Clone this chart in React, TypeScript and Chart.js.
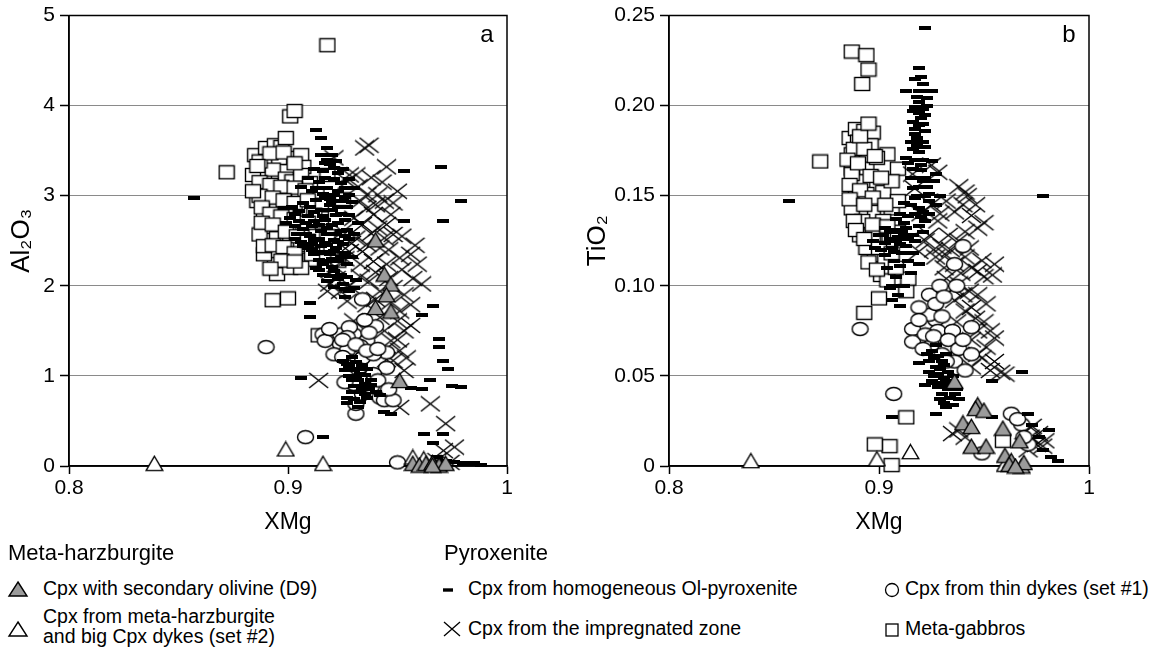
import React, { useEffect, useRef } from "react";
import { Chart, registerables } from "chart.js";

Chart.register(...registerables);

type Pt = [number, number];

// ---- Panel a: XMg vs Al2O3 ----
const olivineA: Pt[] = [
  [0.940, 2.51], [0.944, 2.13], [0.947, 2.02], [0.945, 1.90], [0.940, 1.76], [0.947, 1.72],
  [0.951, 0.95], [0.957, 0.03], [0.960, 0.01], [0.963, 0.03], [0.966, 0.04], [0.969, 0.01],
  [0.972, 0.03], [0.966, 0.01],
];
const harzA: Pt[] = [[0.839, 0.03], [0.899, 0.19], [0.916, 0.03], [0.957, 0.10], [0.962, 0.08]];
const homogA: Pt[] = [
  [0.915, 3.45], [0.918, 3.40], [0.921, 3.31], [0.916, 3.27], [0.921, 3.19], [0.924, 3.14],
  [0.918, 3.08], [0.921, 3.01], [0.925, 2.94], [0.919, 2.90], [0.915, 2.84], [0.922, 2.79],
  [0.926, 2.73], [0.920, 2.68], [0.924, 2.61], [0.918, 2.57], [0.921, 2.51], [0.925, 2.46],
  [0.915, 2.44], [0.919, 2.35], [0.923, 2.27], [0.916, 2.24], [0.913, 2.20], [0.927, 2.24],
  [0.921, 2.16], [0.918, 2.05], [0.925, 2.02], [0.928, 1.94], [0.902, 2.88], [0.905, 2.83],
  [0.909, 2.77], [0.901, 2.75], [0.905, 2.72], [0.911, 2.66], [0.908, 2.57], [0.912, 2.51],
  [0.915, 2.61], [0.906, 2.49], [0.909, 2.42], [0.912, 2.35], [0.930, 2.57], [0.928, 2.79],
  [0.928, 3.01], [0.930, 3.08], [0.917, 3.20], [0.923, 2.87], [0.917, 2.73], [0.922, 2.42],
  [0.913, 2.95], [0.926, 2.36], [0.910, 2.88], [0.920, 2.30],
  [0.911, 3.05], [0.914, 3.15], [0.919, 3.35], [0.923, 3.25], [0.926, 3.08], [0.927, 2.88],
  [0.923, 2.70], [0.927, 2.62], [0.917, 2.48], [0.914, 2.29], [0.920, 2.21], [0.924, 2.12],
  [0.916, 2.12], [0.907, 2.63], [0.904, 2.58], [0.911, 2.46], [0.928, 2.52], [0.932, 2.70],
  [0.929, 2.32], [0.926, 1.88], [0.931, 2.06], [0.920, 2.94], [0.917, 2.98], [0.912, 2.72],
  [0.903, 2.66],
  [0.906, 3.10], [0.909, 3.20], [0.912, 3.30], [0.917, 3.36], [0.920, 3.45], [0.922, 3.38],
  [0.925, 3.30], [0.928, 3.18], [0.913, 3.08], [0.916, 3.02], [0.919, 2.96], [0.923, 3.05],
  [0.926, 2.99], [0.929, 2.93], [0.912, 2.82], [0.916, 2.78], [0.920, 2.84], [0.924, 2.80],
  [0.908, 2.70], [0.914, 2.68], [0.918, 2.64], [0.922, 2.58], [0.926, 2.55], [0.910, 2.55],
  [0.914, 2.52], [0.918, 2.45], [0.923, 2.49], [0.911, 2.40], [0.916, 2.37], [0.921, 2.39],
  [0.924, 2.32], [0.918, 2.27], [0.914, 2.17], [0.919, 2.11], [0.923, 2.07], [0.927, 2.10],
  [0.921, 1.99], [0.926, 1.96], [0.930, 1.98], [0.907, 2.92], [0.903, 2.80], [0.898, 2.86],
  [0.899, 2.70], [0.903, 2.52], [0.907, 2.44],
  [0.925, 1.17], [0.928, 1.11], [0.931, 1.15], [0.930, 1.06], [0.933, 1.02], [0.936, 1.08],
  [0.928, 1.00], [0.932, 0.95], [0.935, 0.91], [0.937, 0.85], [0.930, 0.89], [0.940, 0.82],
  [0.927, 0.76], [0.933, 0.82], [0.929, 1.21], [0.934, 1.12], [0.926, 1.07], [0.931, 0.98],
  [0.938, 0.96], [0.935, 0.80], [0.929, 0.82], [0.927, 1.13], [0.932, 1.08], [0.935, 1.01],
  [0.929, 0.96], [0.934, 0.87], [0.938, 0.90], [0.942, 0.79], [0.933, 0.71], [0.927, 0.70],
  [0.857, 2.98], [0.913, 3.73], [0.915, 3.64], [0.918, 3.53], [0.953, 3.27], [0.970, 3.32],
  [0.979, 2.94], [0.953, 2.72], [0.971, 2.72], [0.966, 1.78], [0.961, 1.68], [0.910, 1.81],
  [0.910, 1.65], [0.906, 0.98], [0.916, 0.32], [0.969, 1.41], [0.969, 1.32], [0.971, 1.17],
  [0.973, 1.08], [0.975, 0.89], [0.979, 0.88], [0.965, 0.95], [0.961, 0.85], [0.956, 0.87],
  [0.962, 0.36], [0.971, 0.36], [0.947, 0.58], [0.944, 0.60], [0.966, 0.25], [0.968, 0.10],
  [0.972, 0.06], [0.980, 0.03], [0.985, 0.03], [0.988, 0.015], [0.976, 0.04], [0.930, 0.74],
  [0.936, 0.76], [0.932, 0.65], [0.923, 2.28],
];
const impregA: Pt[] = [
  [0.935, 3.53], [0.937, 3.56], [0.945, 3.32], [0.928, 3.23], [0.927, 3.16], [0.931, 3.23],
  [0.936, 3.01], [0.941, 3.01], [0.944, 2.94], [0.933, 2.94], [0.939, 2.79], [0.947, 2.79],
  [0.930, 2.75], [0.934, 2.68], [0.941, 2.64], [0.948, 2.57], [0.925, 2.60], [0.931, 2.53],
  [0.936, 2.46], [0.942, 2.42], [0.928, 2.38], [0.951, 2.31], [0.956, 2.35], [0.959, 2.24],
  [0.939, 2.27], [0.945, 2.24], [0.933, 2.24], [0.922, 2.20], [0.919, 2.02], [0.918, 1.94],
  [0.924, 1.94], [0.928, 2.00], [0.937, 2.05], [0.942, 1.94], [0.948, 1.98], [0.953, 1.90],
  [0.961, 2.02], [0.956, 1.79], [0.936, 1.79], [0.942, 1.65], [0.950, 1.61], [0.953, 1.50],
  [0.947, 1.39], [0.951, 1.28], [0.948, 1.17], [0.953, 1.06], [0.951, 0.65], [0.914, 0.95],
  [0.965, 0.69], [0.972, 0.47], [0.976, 0.21], [0.971, 0.17], [0.968, 0.06], [0.974, 0.04],
  [0.930, 1.61], [0.927, 1.83], [0.921, 3.42],
  [0.932, 3.10], [0.938, 3.20], [0.940, 2.90], [0.936, 2.86], [0.945, 2.68], [0.938, 2.58],
  [0.944, 2.53], [0.934, 2.38], [0.946, 2.40], [0.926, 2.30], [0.940, 2.15], [0.933, 2.10],
  [0.946, 2.08], [0.922, 2.08], [0.952, 2.18], [0.957, 2.08], [0.940, 1.85], [0.947, 1.82],
  [0.951, 1.72], [0.944, 1.50], [0.956, 1.56], [0.950, 1.40], [0.945, 1.18], [0.954, 1.20],
  [0.958, 2.45], [0.952, 2.55], [0.948, 2.92], [0.950, 3.05], [0.943, 3.15], [0.929, 2.47],
];
const thinDykesA: Pt[] = [
  [0.890, 1.32], [0.908, 0.32], [0.950, 0.04], [0.931, 0.58], [0.931, 0.69], [0.934, 1.85],
  [0.940, 1.55], [0.916, 1.46], [0.921, 1.46], [0.917, 1.39], [0.924, 1.35], [0.927, 1.28],
  [0.921, 1.24], [0.928, 1.17], [0.934, 1.20], [0.945, 1.26], [0.945, 1.09], [0.924, 1.46],
  [0.930, 1.46], [0.936, 1.39], [0.939, 1.24], [0.942, 0.76], [0.944, 0.73], [0.948, 0.73],
  [0.934, 0.80], [0.930, 0.91], [0.928, 1.54], [0.933, 1.33], [0.939, 1.02], [0.927, 1.43],
  [0.919, 1.52], [0.925, 1.40], [0.931, 1.35], [0.936, 1.28], [0.941, 1.30], [0.925, 1.21],
  [0.932, 1.08], [0.938, 0.88], [0.941, 0.95], [0.946, 0.85], [0.926, 0.93], [0.937, 1.48],
  [0.935, 1.62],
];
const gabbroA: Pt[] = [
  [0.918, 4.67], [0.901, 3.88], [0.903, 3.94], [0.872, 3.26], [0.893, 1.84], [0.900, 1.86],
  [0.914, 1.45], [0.923, 2.28], [0.925, 2.96],
  [0.885, 3.45], [0.890, 3.53], [0.894, 3.56], [0.897, 3.54], [0.899, 3.64], [0.901, 3.42],
  [0.906, 3.45], [0.907, 3.32], [0.896, 3.42], [0.889, 3.23], [0.893, 3.29], [0.899, 3.19],
  [0.902, 3.16], [0.906, 3.23], [0.910, 3.14], [0.889, 3.08], [0.895, 3.07], [0.901, 3.01],
  [0.905, 3.03], [0.913, 3.01], [0.890, 2.94], [0.889, 2.79], [0.895, 2.84], [0.899, 2.79],
  [0.906, 2.83], [0.915, 2.75], [0.892, 2.64], [0.896, 2.72], [0.902, 2.64], [0.907, 2.60],
  [0.913, 2.57], [0.890, 2.51], [0.895, 2.53], [0.901, 2.49], [0.906, 2.42], [0.894, 2.37],
  [0.899, 2.35], [0.906, 2.31], [0.910, 2.29], [0.894, 2.24], [0.895, 2.13], [0.901, 2.20],
  [0.906, 2.20], [0.889, 2.35], [0.887, 2.57], [0.886, 2.94], [0.884, 3.23], [0.918, 3.23],
  [0.915, 2.90], [0.912, 2.79], [0.918, 2.55], [0.913, 2.42],
  [0.887, 3.38], [0.892, 3.47], [0.898, 3.48], [0.903, 3.36], [0.887, 3.15], [0.892, 3.12],
  [0.897, 3.10], [0.903, 3.09], [0.908, 3.06], [0.887, 3.00], [0.893, 2.98], [0.898, 2.95],
  [0.903, 2.92], [0.909, 2.95], [0.888, 2.87], [0.892, 2.80], [0.897, 2.77], [0.903, 2.74],
  [0.909, 2.70], [0.888, 2.70], [0.893, 2.68], [0.899, 2.60], [0.904, 2.55], [0.889, 2.44],
  [0.893, 2.45], [0.898, 2.43], [0.903, 2.36], [0.897, 2.28], [0.892, 2.19], [0.903, 2.27],
  [0.911, 2.35], [0.909, 2.50], [0.886, 3.33], [0.884, 3.05],
];

// ---- Panel b: XMg vs TiO2 ----
const olivineB: Pt[] = [
  [0.936, 0.047], [0.947, 0.034], [0.946, 0.032], [0.950, 0.031], [0.940, 0.024], [0.944, 0.022],
  [0.944, 0.011], [0.951, 0.011], [0.959, 0.021], [0.967, 0.014], [0.960, 0.006], [0.963, 0.003],
  [0.968, 0.000], [0.962, 0.001], [0.969, 0.002], [0.965, 0.000],
];
const harzB: Pt[] = [[0.839, 0.003], [0.899, 0.004], [0.915, 0.008], [0.960, 0.001]];
const homogB: Pt[] = [
  [0.857, 0.147], [0.978, 0.150], [0.922, 0.243], [0.919, 0.221], [0.913, 0.208], [0.921, 0.208],
  [0.925, 0.208], [0.919, 0.202], [0.921, 0.198], [0.922, 0.195], [0.916, 0.191], [0.919, 0.189],
  [0.917, 0.184], [0.921, 0.180], [0.916, 0.176], [0.919, 0.174], [0.913, 0.171], [0.925, 0.169],
  [0.916, 0.165], [0.927, 0.162], [0.921, 0.158], [0.916, 0.154], [0.924, 0.151], [0.919, 0.143],
  [0.914, 0.139], [0.922, 0.136], [0.913, 0.132], [0.916, 0.128], [0.924, 0.147], [0.917, 0.149],
  [0.920, 0.138], [0.903, 0.132], [0.900, 0.128], [0.897, 0.125], [0.906, 0.121], [0.903, 0.117],
  [0.908, 0.125], [0.906, 0.092], [0.909, 0.095], [0.905, 0.099], [0.922, 0.160],
  [0.918, 0.205], [0.920, 0.193], [0.917, 0.187], [0.921, 0.170], [0.918, 0.160], [0.923, 0.155],
  [0.915, 0.145], [0.921, 0.141], [0.912, 0.135], [0.919, 0.133], [0.909, 0.127], [0.913, 0.122],
  [0.903, 0.124], [0.907, 0.119], [0.911, 0.130], [0.917, 0.125], [0.898, 0.121], [0.904, 0.110],
  [0.908, 0.105], [0.906, 0.100],
  [0.910, 0.140], [0.912, 0.146], [0.908, 0.137], [0.905, 0.130], [0.902, 0.128], [0.911, 0.118],
  [0.914, 0.114], [0.916, 0.118], [0.919, 0.112], [0.915, 0.107], [0.912, 0.100], [0.910, 0.089],
  [0.918, 0.150], [0.920, 0.164], [0.914, 0.168], [0.918, 0.178], [0.922, 0.186], [0.919, 0.196],
  [0.923, 0.200], [0.916, 0.197], [0.920, 0.216], [0.915, 0.180], [0.926, 0.158], [0.924, 0.140],
  [0.927, 0.145], [0.929, 0.150], [0.921, 0.130],
  [0.917, 0.215], [0.921, 0.212], [0.919, 0.208], [0.923, 0.204], [0.917, 0.199], [0.921, 0.190],
  [0.918, 0.182], [0.922, 0.177], [0.917, 0.170], [0.920, 0.167], [0.915, 0.160], [0.919, 0.155],
  [0.922, 0.150], [0.917, 0.140], [0.912, 0.128], [0.910, 0.123], [0.905, 0.126], [0.908, 0.131],
  [0.914, 0.126], [0.901, 0.120], [0.907, 0.114], [0.910, 0.111],
  [0.919, 0.057], [0.925, 0.064], [0.927, 0.055], [0.928, 0.051], [0.928, 0.044], [0.932, 0.047],
  [0.935, 0.050], [0.938, 0.037], [0.935, 0.034], [0.927, 0.029], [0.906, 0.027], [0.968, 0.052],
  [0.954, 0.047], [0.954, 0.027], [0.971, 0.029], [0.981, 0.020], [0.985, 0.003], [0.982, 0.005],
  [0.976, 0.016], [0.973, 0.023], [0.925, 0.047], [0.930, 0.058], [0.978, 0.009],
  [0.926, 0.060], [0.929, 0.054], [0.931, 0.049], [0.927, 0.046], [0.933, 0.043], [0.930, 0.040],
  [0.936, 0.040], [0.924, 0.052], [0.923, 0.062], [0.927, 0.067], [0.931, 0.056], [0.933, 0.052],
  [0.929, 0.037], [0.932, 0.033], [0.922, 0.045], [0.924, 0.058], [0.928, 0.061], [0.932, 0.062],
  [0.926, 0.050], [0.930, 0.045], [0.934, 0.046], [0.931, 0.035], [0.934, 0.038], [0.937, 0.043],
];
const impregB: Pt[] = [
  [0.916, 0.162], [0.928, 0.163], [0.925, 0.167], [0.941, 0.152], [0.940, 0.145], [0.944, 0.139],
  [0.936, 0.141], [0.947, 0.132], [0.941, 0.130], [0.922, 0.125], [0.919, 0.119], [0.927, 0.116],
  [0.932, 0.117], [0.936, 0.112], [0.941, 0.116], [0.949, 0.114], [0.955, 0.112], [0.954, 0.106],
  [0.947, 0.108], [0.932, 0.104], [0.938, 0.101], [0.943, 0.097], [0.947, 0.095], [0.936, 0.092],
  [0.941, 0.086], [0.946, 0.082], [0.947, 0.075], [0.955, 0.071], [0.951, 0.066], [0.947, 0.062],
  [0.955, 0.058], [0.960, 0.051], [0.944, 0.055], [0.935, 0.018], [0.976, 0.018], [0.973, 0.022],
  [0.979, 0.014], [0.978, 0.011], [0.971, 0.009], [0.924, 0.128], [0.928, 0.136], [0.933, 0.128],
  [0.932, 0.147], [0.917, 0.154],
  [0.920, 0.140], [0.925, 0.145], [0.929, 0.140], [0.926, 0.120], [0.930, 0.122], [0.934, 0.120],
  [0.938, 0.125], [0.943, 0.121], [0.939, 0.107], [0.944, 0.110], [0.950, 0.105], [0.935, 0.098],
  [0.940, 0.095], [0.951, 0.090], [0.944, 0.088], [0.950, 0.080], [0.953, 0.075], [0.944, 0.070],
  [0.949, 0.060], [0.958, 0.052], [0.953, 0.053], [0.942, 0.150], [0.938, 0.155], [0.946, 0.145],
  [0.950, 0.135], [0.931, 0.110], [0.937, 0.080], [0.972, 0.016], [0.975, 0.012], [0.969, 0.019],
  [0.938, 0.020], [0.941, 0.016],
];
const thinDykesB: Pt[] = [
  [0.891, 0.076], [0.907, 0.040], [0.940, 0.122], [0.936, 0.112], [0.924, 0.095], [0.927, 0.081],
  [0.916, 0.076], [0.916, 0.069], [0.924, 0.084], [0.928, 0.075], [0.925, 0.067], [0.935, 0.075],
  [0.944, 0.077], [0.932, 0.066], [0.936, 0.058], [0.941, 0.053], [0.919, 0.088], [0.963, 0.029],
  [0.968, 0.023], [0.949, 0.007], [0.971, 0.012], [0.927, 0.090], [0.922, 0.073], [0.930, 0.062],
  [0.919, 0.081], [0.921, 0.065], [0.926, 0.072], [0.930, 0.083], [0.933, 0.070], [0.938, 0.065],
  [0.932, 0.058], [0.940, 0.070], [0.929, 0.100], [0.931, 0.094], [0.937, 0.100], [0.944, 0.062],
  [0.966, 0.026], [0.969, 0.016],
];
const gabbroB: Pt[] = [
  [0.887, 0.230], [0.894, 0.228], [0.895, 0.220], [0.892, 0.212], [0.872, 0.169],
  [0.886, 0.182], [0.889, 0.187], [0.893, 0.186], [0.897, 0.185], [0.890, 0.180], [0.896, 0.178],
  [0.887, 0.173], [0.904, 0.173], [0.909, 0.165], [0.894, 0.165], [0.887, 0.165], [0.892, 0.158],
  [0.889, 0.151], [0.894, 0.151], [0.902, 0.152], [0.906, 0.143], [0.897, 0.141], [0.891, 0.141],
  [0.891, 0.128], [0.897, 0.128], [0.905, 0.128], [0.909, 0.130], [0.898, 0.117], [0.903, 0.114],
  [0.901, 0.106], [0.904, 0.103], [0.913, 0.097], [0.914, 0.104], [0.900, 0.093], [0.893, 0.085],
  [0.905, 0.011], [0.898, 0.012], [0.906, 0.0005], [0.913, 0.027], [0.887, 0.162], [0.887, 0.143],
  [0.892, 0.136], [0.894, 0.121], [0.902, 0.136], [0.906, 0.158], [0.909, 0.147], [0.959, 0.014],
  [0.888, 0.176], [0.893, 0.176], [0.899, 0.171], [0.885, 0.170], [0.890, 0.168], [0.896, 0.161],
  [0.901, 0.160], [0.886, 0.156], [0.891, 0.153], [0.897, 0.149], [0.903, 0.145], [0.886, 0.148],
  [0.893, 0.145], [0.888, 0.136], [0.897, 0.134], [0.904, 0.133], [0.889, 0.131], [0.893, 0.126],
  [0.900, 0.121], [0.906, 0.118], [0.895, 0.113], [0.899, 0.109], [0.908, 0.110], [0.891, 0.183],
  [0.895, 0.190], [0.898, 0.172],
];

// ---- Axes ----
const xTicks = [0.8, 0.9, 1];
const xTickLabels = ["0.8", "0.9", "1"];
const al2o3Ticks = [0, 1, 2, 3, 4, 5];
const al2o3TickLabels = ["0", "1", "2", "3", "4", "5"];
const tio2Ticks = [0, 0.05, 0.1, 0.15, 0.2, 0.25];
const tio2TickLabels = ["0", "0.05", "0.10", "0.15", "0.20", "0.25"];

const AXIS_FONT = "'Liberation Sans', Arial, sans-serif";
const TEXT_FONT = "'Liberation Sans', Arial, sans-serif";

type MarkerKind = "triFill" | "tri" | "dash" | "cross" | "circle" | "square";

function makeMarker(kind: MarkerKind): HTMLCanvasElement {
  const c = document.createElement("canvas");
  const size = (w: number, h: number) => {
    c.width = w;
    c.height = h;
  };
  if (kind === "square") size(18, 16);
  else if (kind === "circle") size(19, 16);
  else if (kind === "tri" || kind === "triFill") size(19, 17);
  else if (kind === "cross") size(21, 17);
  else size(12, 4);
  const ctx = c.getContext("2d")!;
  ctx.strokeStyle = "#000";
  ctx.lineWidth = 1.4;
  ctx.lineJoin = "miter";
  if (kind === "square") {
    ctx.fillStyle = "#fff";
    ctx.fillRect(1.5, 1.5, 15, 13);
    ctx.strokeRect(1.5, 1.5, 15, 13);
  } else if (kind === "circle") {
    ctx.beginPath();
    ctx.ellipse(9.5, 8, 8, 6.5, 0, 0, Math.PI * 2);
    ctx.fillStyle = "#fff";
    ctx.fill();
    ctx.stroke();
  } else if (kind === "tri" || kind === "triFill") {
    ctx.beginPath();
    ctx.moveTo(9.5, 1.5);
    ctx.lineTo(17.8, 15.6);
    ctx.lineTo(1.2, 15.6);
    ctx.closePath();
    ctx.fillStyle = kind === "triFill" ? "#9b9b9b" : "#fff";
    ctx.fill();
    ctx.stroke();
  } else if (kind === "cross") {
    ctx.lineWidth = 1.5;
    ctx.beginPath();
    ctx.moveTo(1, 1);
    ctx.lineTo(20, 16);
    ctx.moveTo(20, 1);
    ctx.lineTo(1, 16);
    ctx.stroke();
  } else {
    ctx.fillStyle = "#000";
    ctx.fillRect(0, 0, 12, 4);
  }
  return c;
}

type Series = { kind: MarkerKind; label: string; a: Pt[]; b: Pt[] };

// listed top-most first: dataset 0 is drawn last
const series: Series[] = [
  { kind: "triFill", label: "Cpx with secondary olivine (D9)", a: olivineA, b: olivineB },
  { kind: "tri", label: "Cpx from meta-harzburgite and big Cpx dykes (set #2)", a: harzA, b: harzB },
  { kind: "dash", label: "Cpx from homogeneous Ol-pyroxenite", a: homogA, b: homogB },
  { kind: "circle", label: "Cpx from thin dykes (set #1)", a: thinDykesA, b: thinDykesB },
  { kind: "cross", label: "Cpx from the impregnated zone", a: impregA, b: impregB },
  { kind: "square", label: "Meta-gabbros", a: gabbroA, b: gabbroB },
];

const framePlugin = {
  id: "frame",
  beforeDatasetsDraw(chart: any) {
    const { ctx, chartArea: a } = chart;
    ctx.save();
    ctx.strokeStyle = "#000";
    ctx.lineWidth = 1.5;
    ctx.strokeRect(a.left, a.top, a.right - a.left, a.bottom - a.top);
    ctx.restore();
  },
  afterDraw(chart: any, _args: any, opts: any) {
    const { ctx, chartArea: a } = chart;
    ctx.save();
    ctx.fillStyle = "#000";
    ctx.font = `24px ${AXIS_FONT}`;
    ctx.textAlign = "center";
    ctx.textBaseline = "middle";
    ctx.fillText(opts.letter, a.right - 20, a.top + 20);
    ctx.restore();
  },
};

type PanelSpec = {
  which: "a" | "b";
  left: number;
  width: number;
  height: number;
  yAxisWidth: number;
  padRight: number;
  yMax: number;
  yTicks: number[];
  yLabels: string[];
  yTitle: string;
  yTitlePad: number;
};

const panels: PanelSpec[] = [
  {
    which: "a", left: 0, width: 560, height: 545, yAxisWidth: 69, padRight: 53, yMax: 5,
    yTicks: al2o3Ticks, yLabels: al2o3TickLabels, yTitle: "Al\u2082O\u2083", yTitlePad: 6,
  },
  {
    which: "b", left: 580, width: 585, height: 545, yAxisWidth: 89, padRight: 76, yMax: 0.25,
    yTicks: tio2Ticks, yLabels: tio2TickLabels, yTitle: "TiO\u2082", yTitlePad: 2,
  },
];

function buildConfig(p: PanelSpec): any {
  const datasets = series.map((s) => {
    const img = makeMarker(s.kind);
    const pts = p.which === "a" ? s.a : s.b;
    return {
      label: s.label,
      data: pts.map(([x, y]) => ({ x, y })),
      pointStyle: img,
      pointRadius: 8,
      showLine: false,
      clip: false,
    };
  });
  return {
    type: "scatter",
    data: { datasets },
    plugins: [framePlugin],
    options: {
      responsive: false,
      animation: false,
      events: [],
      layout: { padding: { top: 13, right: p.padRight, left: 0, bottom: 0 } },
      plugins: {
        legend: { display: false },
        tooltip: { enabled: false },
        frame: { letter: p.which },
      },
      scales: {
        x: {
          type: "linear",
          min: 0.8,
          max: 1,
          afterBuildTicks: (s: any) => {
            s.ticks = xTicks.map((value) => ({ value }));
          },
          afterFit: (s: any) => {
            s.height = p.height - 466;
          },
          grid: { drawOnChartArea: false, drawTicks: true, tickLength: 8, tickColor: "#000", tickWidth: 1.5 },
          border: { display: true, color: "#000", width: 1.5 },
          ticks: {
            autoSkip: false,
            maxRotation: 0,
            color: "#000",
            padding: 4,
            font: { family: AXIS_FONT, size: 21, lineHeight: 1 },
            callback: (_v: any, i: number) => xTickLabels[i],
          },
          title: {
            display: true,
            text: "XMg",
            color: "#000",
            font: { family: AXIS_FONT, size: 23, lineHeight: 1.2 },
            padding: { top: 0, bottom: 9 },
          },
        },
        y: {
          type: "linear",
          min: 0,
          max: p.yMax,
          afterBuildTicks: (s: any) => {
            s.ticks = p.yTicks.map((value) => ({ value }));
          },
          afterFit: (s: any) => {
            s.width = p.yAxisWidth;
          },
          grid: { color: "#8a8a8a", lineWidth: 1, tickColor: "#000", tickLength: 9, tickWidth: 1.5 },
          border: { display: true, color: "#000", width: 1.5 },
          ticks: {
            color: "#000",
            padding: 5,
            font: { family: AXIS_FONT, size: 21, lineHeight: 1 },
            callback: (_v: any, i: number) => p.yLabels[i],
          },
          title: {
            display: true,
            text: p.yTitle,
            color: "#000",
            font: { family: TEXT_FONT, size: 26, lineHeight: 1.2 },
            padding: { top: p.yTitlePad, bottom: 0 },
          },
        },
      },
    },
  };
}

function Panel({ spec }: { spec: PanelSpec }) {
  const ref = useRef<HTMLCanvasElement>(null);
  useEffect(() => {
    const chart = new Chart(ref.current as HTMLCanvasElement, buildConfig(spec));
    return () => chart.destroy();
  }, [spec]);
  return (
    <canvas
      ref={ref}
      width={spec.width}
      height={spec.height}
      style={{ position: "absolute", left: spec.left, top: 0, width: spec.width, height: spec.height }}
    />
  );
}

function Glyph({ kind, cx, cy }: { kind: MarkerKind; cx: number; cy: number }) {
  const w = 22;
  const h = 18;
  let shape: React.ReactNode = null;
  if (kind === "triFill" || kind === "tri") {
    shape = (
      <polygon
        points="11,2 20,16 2,16"
        fill={kind === "triFill" ? "#9b9b9b" : "#fff"}
        stroke="#000"
        strokeWidth={1.4}
      />
    );
  } else if (kind === "dash") {
    shape = <rect x={6} y={7.3} width={10} height={3.4} fill="#000" />;
  } else if (kind === "cross") {
    shape = <path d="M3,2 L19,16 M19,2 L3,16" stroke="#000" strokeWidth={1.3} fill="none" />;
  } else if (kind === "circle") {
    shape = <ellipse cx={11} cy={9} rx={6.5} ry={6.5} fill="#fff" stroke="#000" strokeWidth={1.3} />;
  } else {
    shape = <rect x={5} y={3} width={12} height={12} fill="#fff" stroke="#000" strokeWidth={1.3} />;
  }
  return (
    <svg width={w} height={h} style={{ position: "absolute", left: cx - w / 2, top: cy - h / 2 }}>
      {shape}
    </svg>
  );
}

const legendText: React.CSSProperties = {
  position: "absolute",
  fontSize: 19.5,
  lineHeight: "20px",
  whiteSpace: "nowrap",
};

export default function App() {
  return (
    <div
      style={{
        position: "absolute",
        left: 0,
        top: 0,
        width: 1165,
        height: 651,
        background: "#fff",
        fontFamily: TEXT_FONT,
        color: "#000",
        overflow: "hidden",
      }}
    >
      {panels.map((p) => (
        <Panel key={p.which} spec={p} />
      ))}

      <div style={{ position: "absolute", left: 8, top: 541, fontSize: 22, lineHeight: "24px" }}>Meta-harzburgite</div>
      <div style={{ position: "absolute", left: 444, top: 541, fontSize: 22, lineHeight: "24px" }}>Pyroxenite</div>

      <Glyph kind="triFill" cx={18} cy={589} />
      <div style={{ ...legendText, left: 43, top: 578 }}>{series[0].label}</div>

      <Glyph kind="tri" cx={18} cy={629} />
      <div style={{ ...legendText, left: 43, top: 606 }}>
        Cpx from meta-harzburgite
        <br />
        and big Cpx dykes (set #2)
      </div>

      <Glyph kind="dash" cx={448} cy={590} />
      <div style={{ ...legendText, left: 468, top: 578 }}>{series[2].label}</div>

      <Glyph kind="cross" cx={452} cy={629} />
      <div style={{ ...legendText, left: 468, top: 618 }}>{series[4].label}</div>

      <Glyph kind="circle" cx={892} cy={590} />
      <div style={{ ...legendText, left: 905, top: 578 }}>{series[3].label}</div>

      <Glyph kind="square" cx={892} cy={630} />
      <div style={{ ...legendText, left: 905, top: 618 }}>{series[5].label}</div>
    </div>
  );
}
